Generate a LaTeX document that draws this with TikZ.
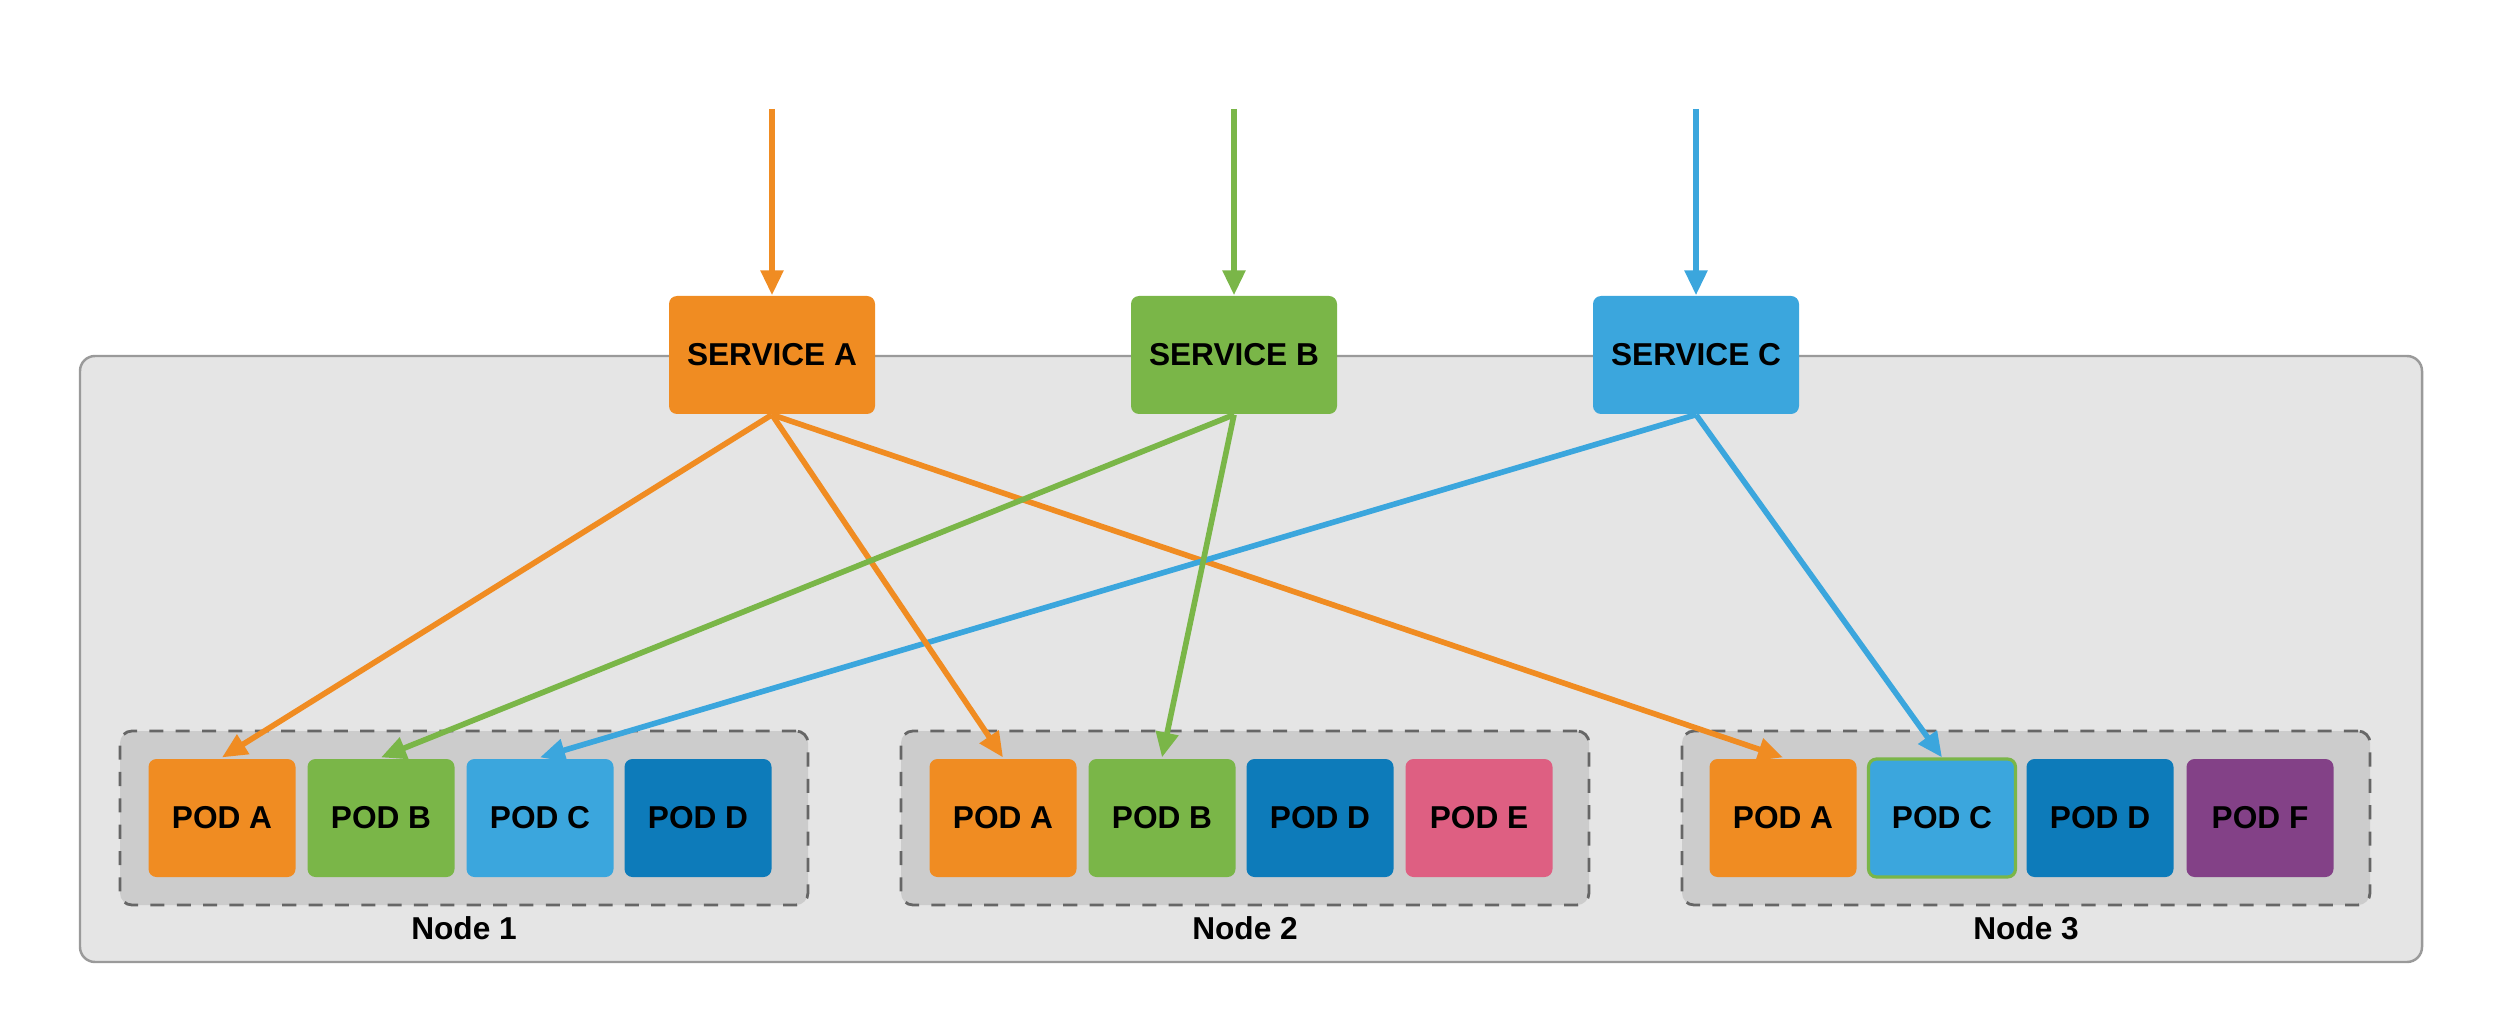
\documentclass[tikz,border=0pt]{standalone}
\usepackage{fontspec}
\setmainfont{Liberation Sans}
\usetikzlibrary{arrows.meta}
\definecolor{laranja}{HTML}{F08C22}
\definecolor{verde}{HTML}{7AB648}
\definecolor{azul}{HTML}{3BA6DD}
\definecolor{azulesc}{HTML}{0D7BBA}
\definecolor{rosa}{HTML}{DE5F82}
\definecolor{roxo}{HTML}{834187}
\definecolor{fundo}{HTML}{E5E5E5}
\definecolor{borda}{HTML}{9A9A9A}
\definecolor{cinza}{HTML}{CCCCCC}
\definecolor{cinzaesc}{HTML}{666666}
\begin{document}
\begin{tikzpicture}
\tikzstyle{servico}=[rectangle, rounded corners=.08cm, minimum width=2.06cm, minimum height=1.18cm, inner sep=0, font=\bfseries\fontsize{9}{10}\selectfont]
\tikzstyle{pod}=[servico, minimum width=1.47cm]
\tikzstyle{grupo}=[rectangle, rounded corners=.12cm, draw=cinzaesc, dashed, dash pattern=on 4pt off 3.5pt, line width=.8pt, fill=cinza, minimum width=6.88cm, minimum height=1.74cm]
\tikzstyle{seta}=[-{Triangle[length=.25cm, width=.22cm]}, line width=1.6pt]
\useasboundingbox (0,0) rectangle (25,10.27);
\draw[rounded corners=.15cm, draw=borda, fill=fundo, line width=.7pt](.8,.65) rectangle (24.22,6.71);
% nos
\foreach \n/\x in{1/4.64, 2/12.45, 3/20.26}{
\node[grupo](g\n) at(\x,2.09){};
\node[font=\bfseries\fontsize{9}{10}\selectfont](t\n) at(\x,.99){Node \n};
}
% pods
\foreach \n/\l/\x/\c/\b in{1/A/2.22/laranja/none, 1/B/3.81/verde/none, 1/C/5.40/azul/none, 1/D/6.98/azulesc/none,
2/A/10.03/laranja/none, 2/B/11.62/verde/none, 2/D/13.20/azulesc/none, 2/E/14.79/rosa/none,
3/A/17.83/laranja/none, 3/C/19.42/azul/verde, 3/D/21.00/azulesc/none, 3/F/22.60/roxo/none}
\node[pod, fill=\c, draw=\b, line width=.9pt](p\n\l) at(\x,2.09){POD \l};
% servicos
\foreach \s/\x/\c in{A/7.72/laranja, B/12.34/verde, C/16.96/azul}{
\node[servico, fill=\c](s\s) at(\x,6.72){SERVICE \s};
\coordinate(e\s) at(\x,9.18);
\draw[seta, \c](e\s)--(s\s);
}
\draw[seta, laranja](sA.south)--(p1A.north);
\draw[seta, laranja](sA.south)--(p3A.north);
\draw[seta, azul](sC.south)--(p1C.north);
\draw[seta, azul](sC.south)--(p3C.north);
\draw[seta, laranja](sA.south)--(p2A.north);
\draw[seta, verde](sB.south)--(p1B.north);
\draw[seta, verde](sB.south)--(p2B.north);
\end{tikzpicture}
\end{document}
